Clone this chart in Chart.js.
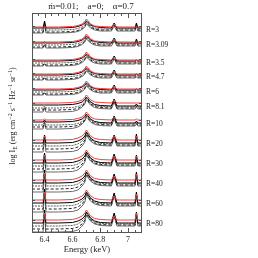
<!DOCTYPE html>
<html>
<head>
<meta charset="utf-8">
<script src="https://cdn.jsdelivr.net/npm/chart.js@4.4.1/dist/chart.umd.min.js"></script>
<style>
  html, body { margin: 0; padding: 0; background: #fff; }
  #wrap { width: 258px; height: 258px; }
</style>
</head>
<body>
<div id="wrap"><canvas id="spec" width="258" height="258"></canvas></div>
<script>
// energy grid (keV), shared by every spectrum
const energies = [6.31, 6.39, 6.40, 6.41, 6.50, 6.60, 6.64, 6.67, 6.69, 6.70, 6.71, 6.73, 6.76, 6.80, 6.88, 6.90, 6.92, 7.05, 7.06, 7.07, 7.10];
const radii = ["3", "3.09", "3.5", "4.7", "6", "8.1", "10", "20", "30", "40", "60", "80"];
// continuum level of each radius in the stacked plot
const levels = [203, 188, 170, 156, 141, 126, 109, 89, 69, 49, 29, 9];
const xLabels = [6.4, 6.6, 6.8, 7.0];
const xMinor = [6.35, 6.45, 6.5, 6.55, 6.65, 6.7, 6.75, 6.85, 6.9, 6.95, 7.05];

// spectra relative to the continuum level, one row per radius
const redLines = [
  [3,3,3,3,3, 3.5,4.5,6,8.5,11,9.5,6,4,3.5, 3,6,3,3,3,3,3],
  [3,3,3,3,3, 3.5,4.5,6,8.5,11,9.5,6,4,3.5, 3,6,3,3,3,3,3],
  [3,3,3,3,3, 3.5,4.5,6,8.5,11,9.5,6,4,3.5, 3,6,3,3,3,3,3],
  [3,3,3,3,3, 3.5,4.5,6,8.5,11,9.5,6,4,3.5, 3,6,3,3,3,3,3],
  [3,3,3,3,3, 3.5,4.5,6,8.5,11,9.5,6,4,3.5, 3,6,3,3,3,3,3],
  [4,4,4,4,4, 4.5,5.5,7,9.5,12,10.5,7,5,4.5, 4,7,4,4,4,4,4],
  [4,4,5,4,4, 4.5,5.5,7,9.5,12,10.5,7,5,4.5, 4,7,4,4,5,4,4],
  [4,4,8,4,4, 4.5,6,8,11,14,12,8,5.5,4.5, 4,8,4,4,8,4,4],
  [4,4,9,4,4, 4.5,6,8,11,14,12,8,5.5,4.5, 4,8,4,4,8,4,4],
  [4,4,11,4,4, 4.5,6,8,11,14,12,8,5.5,4.5, 4,8,4,4,10,4,4],
  [4,4,12,4,4, 4.5,6,8,11,14,12,8,5.5,4.5, 4,8,4,4,10,4,4],
  [4,4,11,4,4, 4.5,6,8,11,14,12,8,5.5,4.5, 4,8,4,4,11,4,4]
];
const bundleA = [
  [2,2,9,2,2, 2.5,3.5,5,7,9,8,5,3.5,2.5, 2,7,2,2,7,2,2],
  [2,2,3,2,2, 2.5,3.5,5,7,9,8,5,3.5,2.5, 2,7,2,2,6,2,2],
  [2,2,2,2,2, 2.5,3.5,5,7,9,8,5,3.5,2.5, 2,7,2,2,3,2,2],
  [2,2,2,2,2, 2.5,3.5,5,7,9,8,5,3.5,2.5, 2,7,2,2,3,2,2],
  [2,2,2,2,2, 2.5,3.5,5,7,9,8,5,3.5,2.5, 2,7,2,2,3,2,2],
  [2,2,2,2,2, 2.5,3.5,5,7.5,10,8.5,5,2.5,1.5, 1,8,1,1,3,1,1],
  [2,2,4,2,2, 2.5,3.5,5,7.5,10,8.5,5,2.5,1.5, 1,8,1,1,3,1,1],
  [1,1,9,1,1, 1.5,3,5,8,12,10,6,3,1.5, 1,9,1,1,10,1,1],
  [1,1,11,1,1, 1.5,3,5,8,12,10,6,3,1.5, 1,10,1,1,9,1,1],
  [1,1,14,1,1, 1.5,3,5,8,12,10,6,3,1.5, 1,10,1,1,12,1,1],
  [1,1,15,1,1, 1.5,3,5,8,12,10,6,3,1.5, 1,11,1,1,12,1,1],
  [1,1,14,1,1, 1.5,3,5,8,12,10,6,3,1.5, 1,11,1,1,12,1,1]
];
const bundleB = [
  [0,0,8,0,0, 0.5,1.5,3,5,8,7,4,2,1, 1,6,1,1,6,1,1],
  [0,0,2,0,0, 0.5,1.5,3,5,8,7,4,2,1, 1,6,1,1,5,1,1],
  [0,0,1,0,0, 0.5,1.5,3,5,8,7,4,2,1, 1,6,1,1,2,1,1],
  [0,0,1,0,0, 0.5,1.5,3,5,8,7,4,2,1, 1,6,1,1,2,1,1],
  [0,0,1,0,0, 0.5,1.5,3,5,8,7,4,2,1, 1,6,1,1,2,1,1],
  [-1,-1,1,-1,-1, -0.5,0.5,2.5,5,9,7.5,4,1.5,0.5, 0,7,0,0,2,0,0],
  [-1,-1,3,-1,-1, -0.5,0.5,2.5,5,9,7.5,4,1.5,0.5, 0,7,0,0,2,0,0],
  [-2,-2,8,-2,-2, -1.5,0,3,6,11,9,5,2,0.5, 0,8,0,0,9,0,0],
  [-2,-2,10,-2,-2, -1.5,0,3,6,11,9,5,2,0.5, 0,9,0,0,8,0,0],
  [-2,-2,13,-2,-2, -1.5,0,3,6,11,9,5,2,0.5, 0,9,0,0,11,0,0],
  [-2,-2,14,-2,-2, -1.5,0,3,6,11,9,5,2,0.5, 0,10,0,0,11,0,0],
  [-2,-2,13,-2,-2, -1.5,0,3,6,11,9,5,2,0.5, 0,10,0,0,11,0,0]
];
const bundleC = [
  [-2,-2,7,-2,-2, -1.5,-0.5,1.5,4,7,6,3,1,0, 0,5,0,0,5,0,0],
  [-2,-2,1,-2,-2, -1.5,-0.5,1.5,4,7,6,3,1,0, 0,5,0,0,4,0,0],
  [-2,-2,0,-2,-2, -1.5,-0.5,1.5,4,7,6,3,1,0, 0,5,0,0,1,0,0],
  [-2,-2,0,-2,-2, -1.5,-0.5,1.5,4,7,6,3,1,0, 0,5,0,0,1,0,0],
  [-2,-2,0,-2,-2, -1.5,-0.5,1.5,4,7,6,3,1,0, 0,5,0,0,1,0,0],
  [-3,-3,0,-3,-3, -2.5,-1.5,1,4,8,6.5,3,0.5,-0.5, -1,6,-1,-1,1,-1,-1],
  [-3,-3,2,-3,-3, -2.5,-1.5,1,4,8,6.5,3,0.5,-0.5, -1,6,-1,-1,1,-1,-1],
  [-5,-5,7,-5,-5, -4.5,-3,0,4,10,8,4,1,-0.5, -1,7,-1,-1,8,-1,-1],
  [-5,-5,9,-5,-5, -4.5,-3,0,4,10,8,4,1,-0.5, -1,8,-1,-1,7,-1,-1],
  [-5,-5,12,-5,-5, -4.5,-3,0,4,10,8,4,1,-0.5, -1,8,-1,-1,10,-1,-1],
  [-5,-5,13,-5,-5, -4.5,-3,0,4,10,8,4,1,-0.5, -1,9,-1,-1,10,-1,-1],
  [-5,-5,12,-5,-5, -4.5,-3,0,4,10,8,4,1,-0.5, -1,9,-1,-1,10,-1,-1]
];
const bundleD = [
  [-3,-3,6,-3,-3, -2.5,-1.5,0.5,3,6,5,2,0,-1, -1,4,-1,-1,4,-1,-1],
  [-3,-3,0,-3,-3, -2.5,-1.5,0.5,3,6,5,2,0,-1, -1,4,-1,-1,3,-1,-1],
  [-3,-3,-1,-3,-3, -2.5,-1.5,0.5,3,6,5,2,0,-1, -1,4,-1,-1,0,-1,-1],
  [-3,-3,-1,-3,-3, -2.5,-1.5,0.5,3,6,5,2,0,-1, -1,4,-1,-1,0,-1,-1],
  [-3,-3,-1,-3,-3, -2.5,-1.5,0.5,3,6,5,2,0,-1, -1,4,-1,-1,0,-1,-1],
  [-5,-5,-1,-5,-5, -4.5,-3,0,3,7,5.5,2,-0.5,-1.5, -2,5,-2,-2,0,-2,-2],
  [-5,-5,1,-5,-5, -4.5,-3,0,3,7,5.5,2,-0.5,-1.5, -2,5,-2,-2,0,-2,-2],
  [-8,-8,6,-8,-8, -7.5,-6,-2,2,9,7,3,0,-1.5, -2,6,-2,-2,7,-2,-2],
  [-8,-8,8,-8,-8, -7.5,-6,-2,2,9,7,3,0,-1.5, -2,7,-2,-2,6,-2,-2],
  [-8,-8,11,-8,-8, -7.5,-6,-2,2,9,7,3,0,-1.5, -2,7,-2,-2,9,-2,-2],
  [-8,-8,12,-8,-8, -7.5,-6,-2,2,9,7,3,0,-1.5, -2,8,-2,-2,9,-2,-2],
  [-8,-8,11,-8,-8, -7.5,-6,-2,2,9,7,3,0,-1.5, -2,8,-2,-2,9,-2,-2]
];

const serif = "'Liberation Serif', 'DejaVu Serif', serif";
const titleText = "ṁ=0.01;    a=0;    α=0.7";
// y title pieces: [text, shift] where shift 1 = superscript, -1 = subscript
const yTitle = [["log I", 0], ["E", -1], [" (erg cm", 0], ["−2", 1], [" s", 0], ["−1", 1],
  [" Hz", 0], ["−1", 1], [" sr", 0], ["−1", 1], [")", 0]];

const lineStyles = [
  { rows: bundleD, color: "#6a6a6a", width: 1, dash: [] },
  { rows: bundleC, color: "#222222", width: 1, dash: [3, 2] },
  { rows: bundleB, color: "#5c5c5c", width: 1, dash: [2, 1] },
  { rows: bundleA, color: "#000000", width: 1, dash: [] },
  { rows: redLines, color: "#ff3b3b", width: 1, dash: [] }
];

function toPoints(row, level) {
  return row.map((v, i) => ({ x: energies[i], y: level + v }));
}

const datasets = [];
levels.forEach((lvl, p) => {
  lineStyles.forEach((s, k) => {
    datasets.push({
      data: toPoints(s.rows[p], lvl),
      borderColor: s.color,
      borderWidth: s.width,
      borderDash: s.dash,
      pointRadius: 0,
      fill: false,
      tension: 0,
      order: lineStyles.length - k
    });
  });
});

// box with inward ticks and the free-standing texts
const framePlugin = {
  id: "frame",
  afterDatasetsDraw(chart) {
    const { ctx, chartArea: a, scales } = chart;
    const x = scales.x, y = scales.y;
    ctx.save();
    ctx.strokeStyle = "#555";
    ctx.lineWidth = 1;
    ctx.strokeRect(a.left + 0.5, a.top + 0.5, a.right - a.left - 1, a.bottom - a.top - 1);
    ctx.beginPath();
    xLabels.concat(xMinor).forEach(v => {
      const px = Math.round(x.getPixelForValue(v)) + 0.5;
      const len = xLabels.includes(v) ? 5 : 3;
      ctx.moveTo(px, a.bottom); ctx.lineTo(px, a.bottom - len);
      ctx.moveTo(px, a.top); ctx.lineTo(px, a.top + len);
    });
    levels.forEach(v => {
      const py = Math.round(y.getPixelForValue(v + 4)) + 0.5;
      ctx.moveTo(a.left, py); ctx.lineTo(a.left + 3, py);
      ctx.moveTo(a.right, py); ctx.lineTo(a.right - 3, py);
    });
    ctx.stroke();

    ctx.fillStyle = "#222";
    ctx.textBaseline = "middle";
    ctx.textAlign = "center";
    ctx.font = "9px " + serif;
    ctx.fillText(titleText, 91, 7);

    // rotated y-axis title with sub/superscripts
    ctx.translate(13, 116);
    ctx.rotate(-Math.PI / 2);
    ctx.textAlign = "left";
    const big = "8px " + serif, small = "6px " + serif;
    let w = 0;
    yTitle.forEach(([t, s]) => { ctx.font = s ? small : big; w += ctx.measureText(t).width; });
    let cx = -w / 2;
    yTitle.forEach(([t, s]) => {
      ctx.font = s ? small : big;
      ctx.fillText(t, cx, s === 1 ? -3 : s === -1 ? 2 : 0);
      cx += ctx.measureText(t).width;
    });
    ctx.restore();
  }
};

new Chart(document.getElementById("spec"), {
  type: "line",
  data: { datasets },
  plugins: [framePlugin],
  options: {
    responsive: false,
    animation: false,
    events: [],
    layout: { padding: { top: 13 } },
    plugins: {
      legend: { display: false },
      tooltip: { enabled: false },
      title: { display: false }
    },
    scales: {
      x: {
        type: "linear",
        min: 6.31,
        max: 7.10,
        afterBuildTicks: s => { s.ticks = xLabels.map(v => ({ value: v })); },
        afterFit: s => { s.height = 25; },
        ticks: {
          autoSkip: false,
          maxRotation: 0,
          padding: 2,
          color: "#222",
          font: { family: serif, size: 8 },
          callback: v => (v === 7 ? "7" : v.toFixed(1))
        },
        grid: { display: false, drawTicks: false },
        border: { display: false },
        title: {
          display: true,
          text: "Energy (keV)",
          color: "#222",
          font: { family: serif, size: 8.5 },
          padding: { top: 0, bottom: 3 }
        }
      },
      y: {
        min: 0,
        max: 220,
        afterFit: s => { s.width = 32; },
        ticks: { display: false },
        grid: { display: false, drawTicks: false },
        border: { display: false }
      },
      y2: {
        position: "right",
        min: 0,
        max: 220,
        afterBuildTicks: s => { s.ticks = levels.slice().reverse().map(v => ({ value: v })); },
        afterFit: s => { s.width = 116; },
        ticks: {
          autoSkip: false,
          padding: 4,
          color: "#222",
          font: { family: serif, size: 7.5 },
          callback: v => "R=" + radii[levels.indexOf(v)]
        },
        grid: { display: false, drawTicks: false },
        border: { display: false }
      }
    }
  }
});
</script>
</body>
</html>
